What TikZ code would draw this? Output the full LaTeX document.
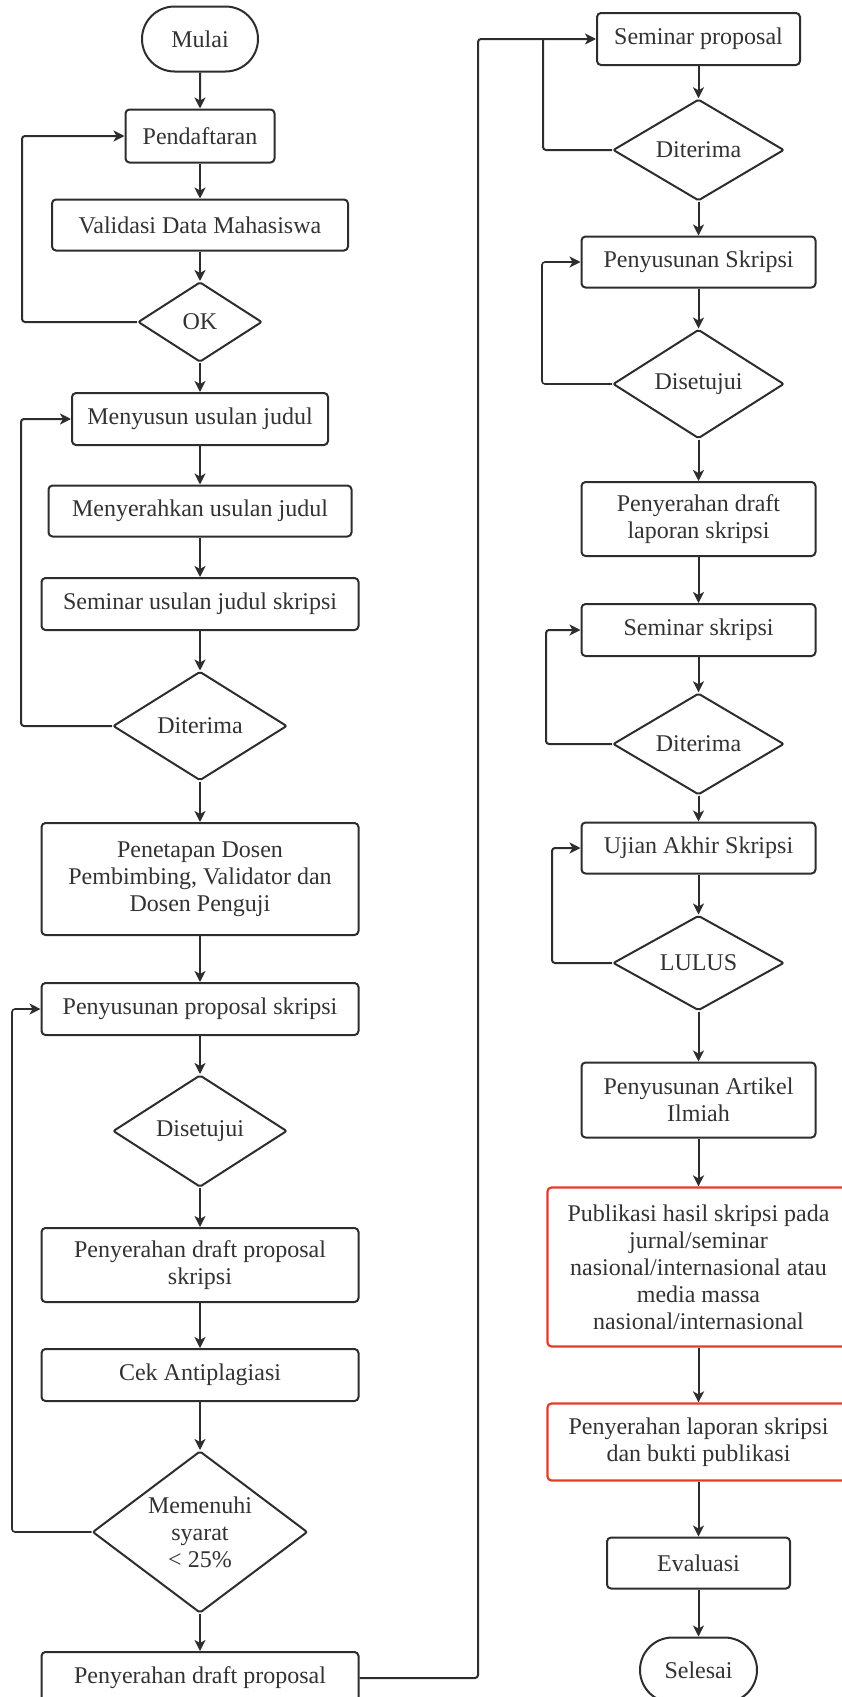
\documentclass[tikz,border=0pt]{standalone}
\usepackage{fontspec}
\setmainfont{Liberation Serif}
\usetikzlibrary{shapes.geometric,shapes.misc,arrows.meta}
\definecolor{ink}{RGB}{45,45,45}
\definecolor{txt}{RGB}{50,50,50}
\definecolor{redline}{RGB}{228,60,38}
\begin{document}
\begin{tikzpicture}[x=1pt,y=-1pt,
  every node/.style={font=\fontsize{24}{27}\selectfont, text=txt},
  box/.style={draw=ink, line width=2pt, rounded corners=4pt, align=center, inner sep=0pt},
  redbox/.style={box, draw=redline, line width=2.2pt},
  term/.style={draw=ink, line width=2pt, rounded rectangle, inner sep=0pt},
  dec/.style={draw=ink, line width=2pt, diamond, inner sep=0pt, align=center, rounded corners=2pt},
  arr/.style={draw=ink, line width=2pt, -{Stealth[length=11pt,width=11pt,inset=3pt]}, rounded corners=3pt},
  ln/.style={draw=ink, line width=2pt, rounded corners=3pt}
]
\useasboundingbox (0,0) rectangle (842,1697);
\clip (0,0) rectangle (842,1697);

% left column
\node[term, minimum width=116pt, minimum height=65pt] (mulai) at (200,39) {Mulai};
\node[box, minimum width=149pt, minimum height=53pt] (pend) at (200,136) {Pendaftaran};
\node[box, minimum width=296pt, minimum height=51pt] (valid) at (200,225) {Validasi Data Mahasiswa};
\node[dec, minimum width=124pt, minimum height=80pt] (ok) at (200,322) {OK};
\node[box, minimum width=256pt, minimum height=52pt] (menyusun) at (200,419) {Menyusun usulan judul};
\node[box, minimum width=303pt, minimum height=51pt] (menyerah) at (200,511) {Menyerahkan usulan judul};
\node[box, minimum width=317pt, minimum height=52pt] (semjudul) at (200,604) {Seminar usulan judul skripsi};
\node[dec, minimum width=174pt, minimum height=109pt] (dit1) at (200,726) {Diterima};
\node[box, minimum width=317pt, minimum height=112pt] (penetapan) at (200,879) {Penetapan Dosen\\Pembimbing, Validator dan\\Dosen Penguji};
\node[box, minimum width=317pt, minimum height=52pt] (proposal) at (200,1009) {Penyusunan proposal skripsi};
\node[dec, minimum width=174pt, minimum height=112pt] (dis1) at (200,1131) {Disetujui};
\node[box, minimum width=317pt, minimum height=74pt] (draft1) at (200,1265) {Penyerahan draft proposal\\skripsi};
\node[box, minimum width=317pt, minimum height=52pt] (cek) at (200,1375) {Cek Antiplagiasi};
\node[dec, minimum width=215pt, minimum height=162pt, aspect=1.33] (memenuhi) at (200,1532) {Memenuhi\\syarat\\\textless{} 25\%};
\node[box, minimum width=317pt, minimum height=52pt] (draft2) at (200,1678) {Penyerahan draft proposal};

% right column
\node[box, minimum width=203pt, minimum height=52pt] (sempro) at (698.5,39) {Seminar proposal};
\node[dec, minimum width=171pt, minimum height=95pt] (dit2) at (698.5,150) {Diterima};
\node[box, minimum width=234pt, minimum height=51pt] (penskripsi) at (698.5,262) {Penyusunan Skripsi};
\node[dec, minimum width=171pt, minimum height=95pt] (dis2) at (698.5,384) {Disetujui};
\node[box, minimum width=234pt, minimum height=74pt] (draft3) at (698.5,519) {Penyerahan draft\\laporan skripsi};
\node[box, minimum width=234pt, minimum height=52pt] (semskripsi) at (698.5,630) {Seminar skripsi};
\node[dec, minimum width=171pt, minimum height=94pt] (dit3) at (698.5,744) {Diterima};
\node[box, minimum width=234pt, minimum height=51pt] (ujian) at (698.5,848) {Ujian Akhir Skripsi};
\node[dec, minimum width=171pt, minimum height=95pt] (lulus) at (698.5,963) {LULUS};
\node[box, minimum width=234pt, minimum height=75pt] (artikel) at (698.5,1100) {Penyusunan Artikel\\Ilmiah};
\node[redbox, minimum width=302pt, minimum height=159pt] (publikasi) at (698.5,1267) {Publikasi hasil skripsi pada\\jurnal/seminar\\nasional/internasional atau\\media massa\\nasional/internasional};
\node[redbox, minimum width=302pt, minimum height=77pt] (laporan) at (698.5,1442) {Penyerahan laporan skripsi\\dan bukti publikasi};
\node[box, minimum width=183pt, minimum height=51pt] (eval) at (698.5,1563) {Evaluasi};
\node[term, minimum width=117pt, minimum height=65pt] (selesai) at (698.5,1670) {Selesai};

% straight connectors
\foreach \a/\b in {mulai/pend, pend/valid, valid/ok, ok/menyusun, menyusun/menyerah, menyerah/semjudul, semjudul/dit1, dit1/penetapan, penetapan/proposal, proposal/dis1, dis1/draft1, draft1/cek, cek/memenuhi, memenuhi/draft2, sempro/dit2, dit2/penskripsi, penskripsi/dis2, dis2/draft3, draft3/semskripsi, semskripsi/dit3, dit3/ujian, ujian/lulus, lulus/artikel, artikel/publikasi, publikasi/laporan, laporan/eval, eval/selesai}
  \draw[arr] (\a) -- (\b);

% loops
\coordinate (c1) at (22,136);
\draw[arr] (ok.west) -| (c1) -- (pend.west);
\coordinate (c2) at (21,419);
\draw[arr] (dit1.west) -| (c2) -- (menyusun.west);
\coordinate (c3) at (12,1009);
\draw[arr, line width=1.6pt] (memenuhi.west) -| (c3) -- (proposal.west);
\coordinate (c4) at (478,1678);
\draw[arr] (draft2.east) -- (c4) |- (sempro.west);
\coordinate (c5) at (543,39);
\draw[ln] (dit2.west) -| (c5);
\coordinate (c6) at (542,262);
\draw[arr, line width=1.6pt] (dis2.west) -| (c6) -- (penskripsi.west);
\coordinate (c7) at (546,630);
\draw[arr] (dit3.west) -| (c7) -- (semskripsi.west);
\coordinate (c8) at (552,848);
\draw[arr] (lulus.west) -| (c8) -- (ujian.west);
\end{tikzpicture}
\end{document}
